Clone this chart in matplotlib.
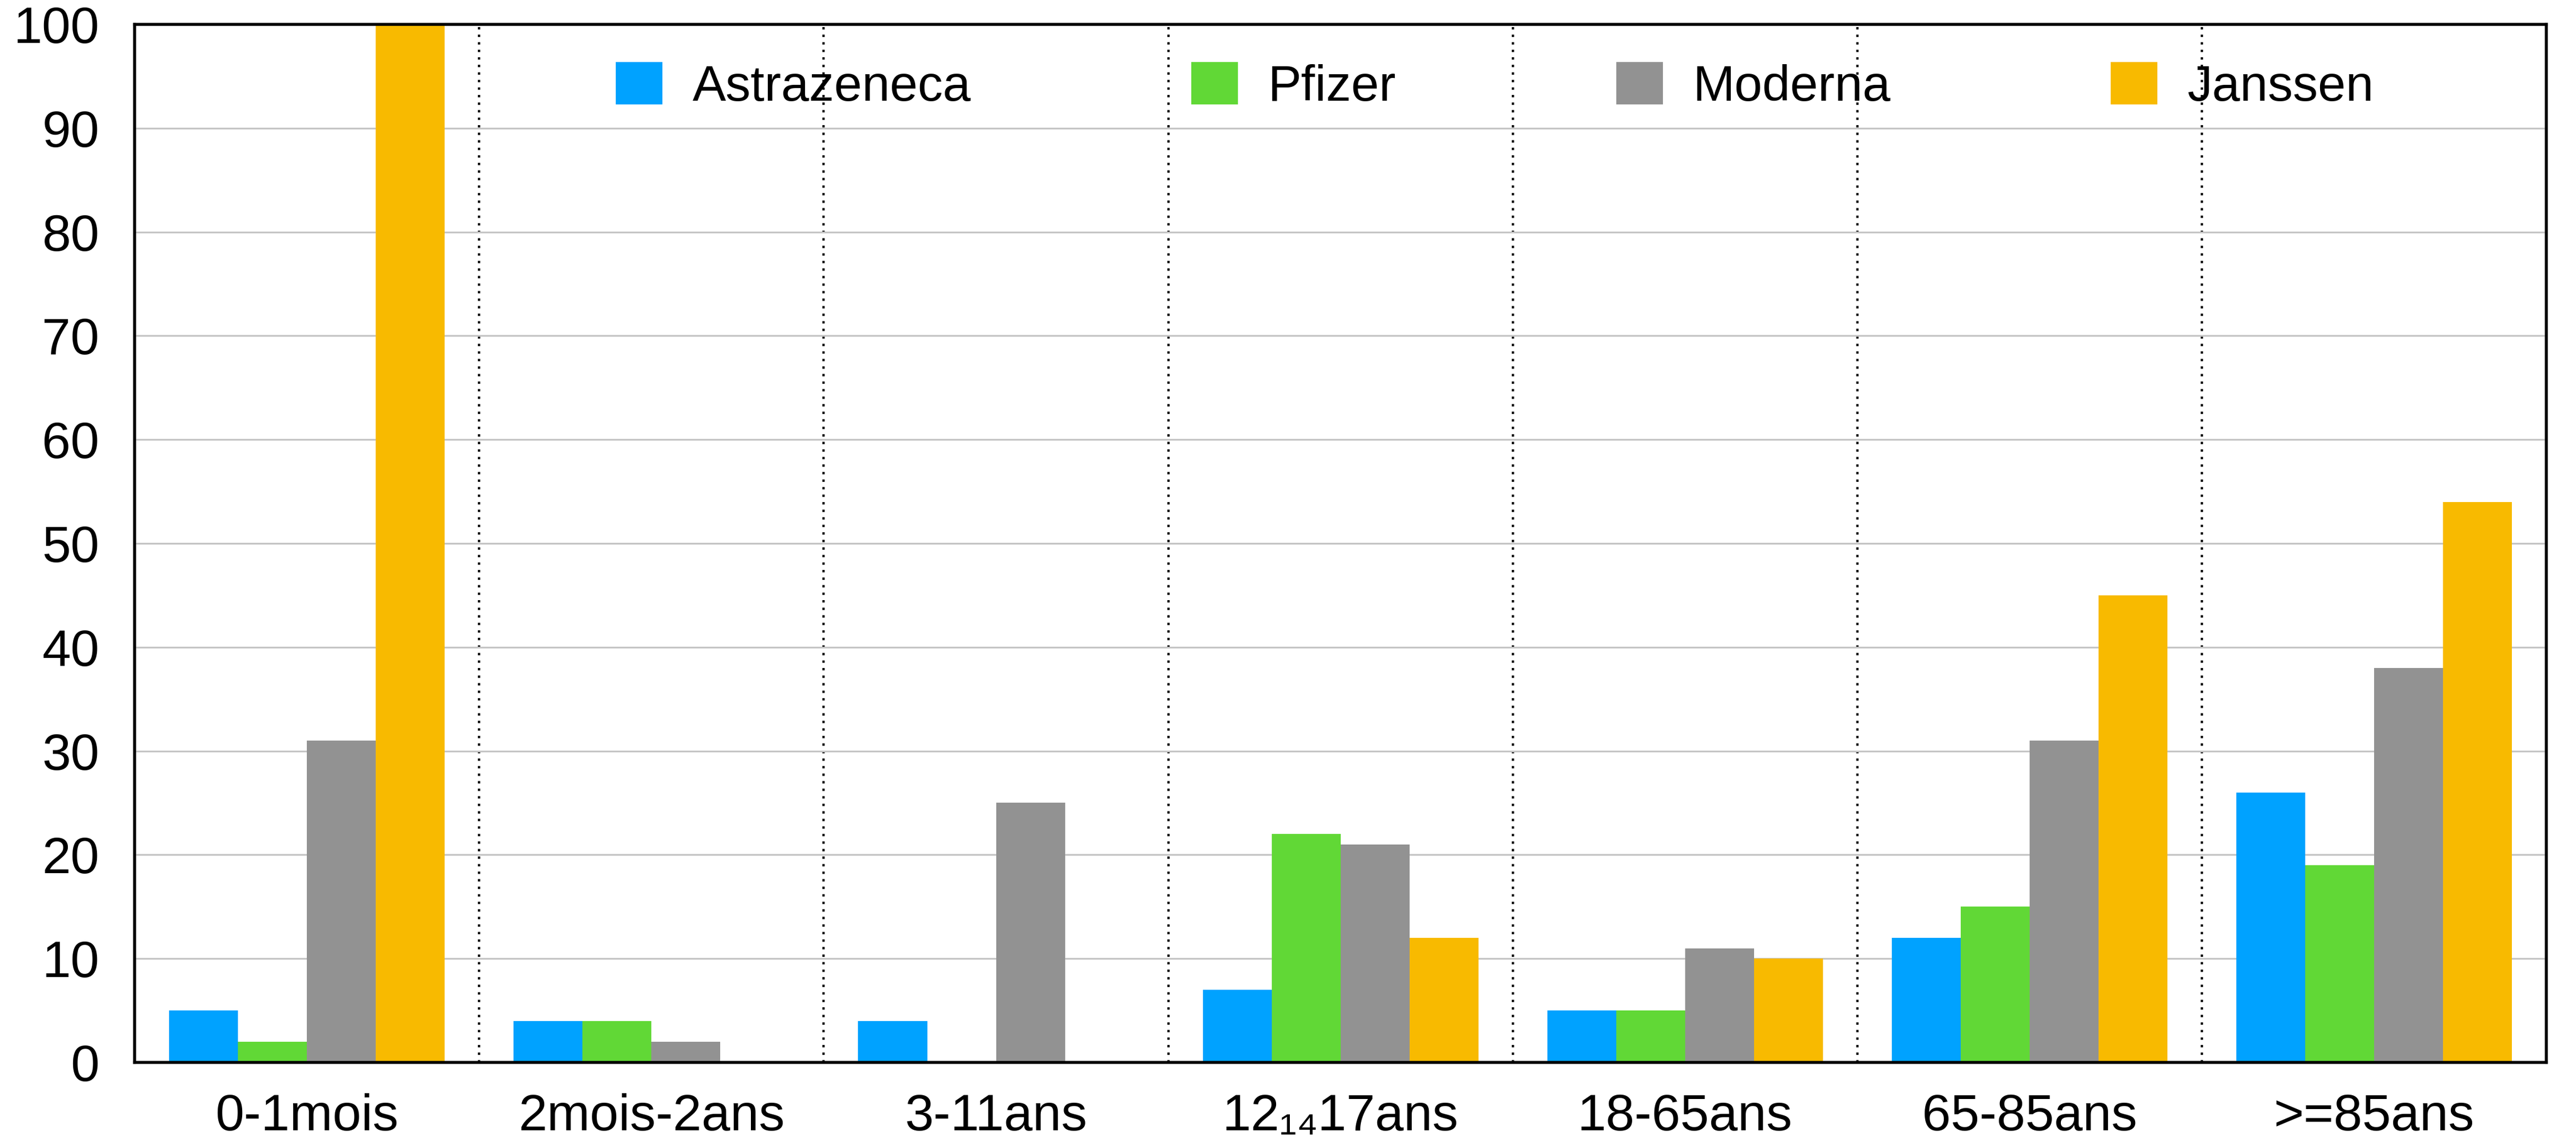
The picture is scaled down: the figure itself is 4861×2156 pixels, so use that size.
import matplotlib
matplotlib.use("Agg")
import matplotlib.pyplot as plt
import numpy as np

plt.rcParams['font.family'] = ['Liberation Sans', 'DejaVu Sans']

categories = ["0-1mois", "2mois-2ans", "3-11ans", "12\u2081\u208417ans",
              "18-65ans", "65-85ans", ">=85ans"]
astrazeneca = [5, 4, 4, 7, 5, 12, 26]
pfizer = [2, 4, 0, 22, 5, 15, 19]
moderna = [31, 2, 25, 21, 11, 31, 38]
janssen = [100, 0, 0, 12, 10, 45, 54]
series = [("Astrazeneca", astrazeneca, "#00A2FF"),
          ("Pfizer", pfizer, "#61D836"),
          ("Moderna", moderna, "#929292"),
          ("Janssen", janssen, "#F8BA00")]

fig = plt.figure(figsize=(24.305, 10.78), dpi=200)
ax = fig.add_axes([0.0523, 0.0705, 0.9362, 0.9082])

x = np.arange(len(categories))
w = 0.2
for i, (name, vals, col) in enumerate(series):
    ax.bar(x + (i - 1.5) * w, vals, w, color=col, label=name, zorder=3)

ax.set_xlim(-0.5, len(categories) - 0.5)
ax.set_ylim(0, 100)
ax.set_yticks(range(0, 101, 10))
ax.set_xticks(x)
ax.set_xticklabels(categories)
ax.tick_params(axis='both', length=0, labelsize=35)
ax.tick_params(axis='y', pad=24)
ax.tick_params(axis='x', pad=21)

ax.yaxis.grid(True, color="#c4c4c4", linewidth=1.2, zorder=0)
for b in x[:-1] + 0.5:
    ax.axvline(b, color="black", linestyle=(0, (1, 2.2)), linewidth=1.6, zorder=1)

for s in ax.spines.values():
    s.set_linewidth(2)
    s.set_color("black")
    s.set_zorder(4)

ax.legend(loc="center", bbox_to_anchor=(0.564, 0.94), ncol=4, frameon=False,
          fontsize=34, handlelength=0.93, handleheight=0.93,
          handletextpad=0.6, columnspacing=4.4)

fig.savefig("out.png", dpi=200)
